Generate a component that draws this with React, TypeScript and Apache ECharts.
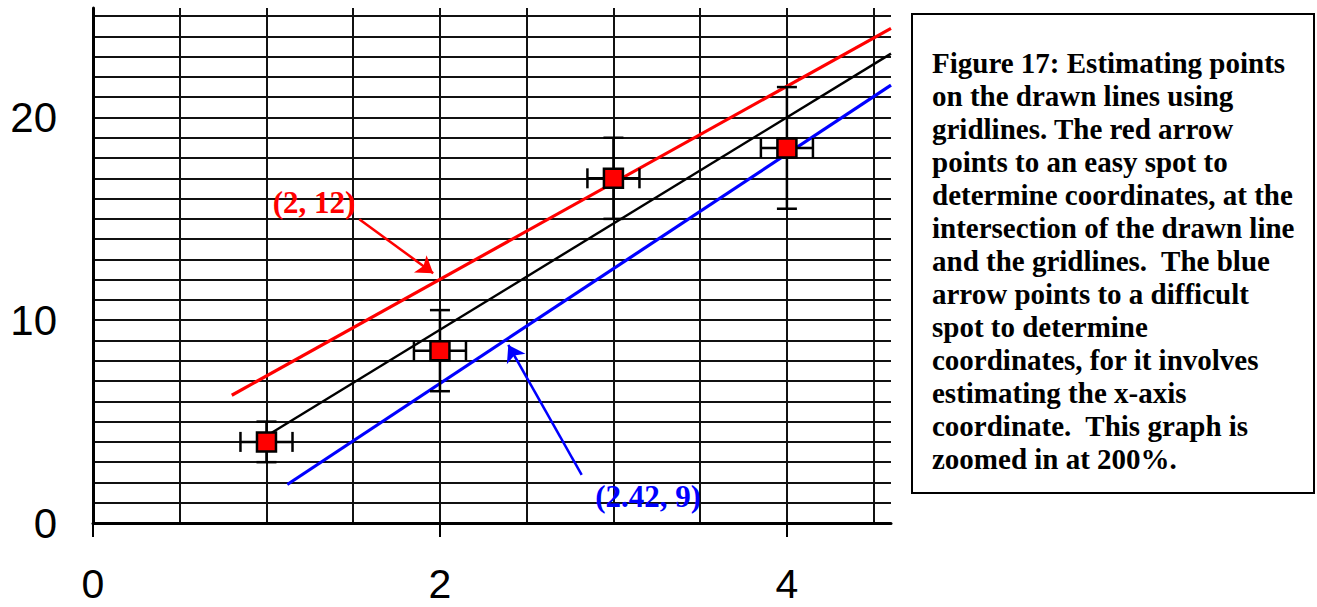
import React, { useEffect, useRef } from "react";
import * as echarts from "echarts";

// ---- data ----
const xValues = [1, 2, 3, 4];
const yValues = [4, 8.5, 17, 18.5];
const xErrors = [0.15, 0.15, 0.15, 0.15];
const yErrors = [1, 2, 2, 3];

const redLine = [[0.8, 6.3], [4.6, 24.4]];
const blackLine = [[1.03, 4.45], [4.6, 23.15]];
const blueLine = [[1.12, 1.9], [4.6, 21.6]];

const yTickLabels = [0, 10, 20];

const redArrow = [[1.535, 14.98], [1.961, 12.32]];
const blueArrow = [[2.817, 2.37], [2.394, 8.78]];

const annotationTexts = ["(2, 12)", "(2.42, 9)"];
const annotationPositions = [[1.274, 15.8], [3.2, 1.33]];
const annotationColors = ["#ff0000", "#0000ff"];

const captionLines = [
  "Figure 17: Estimating points",
  "on the drawn lines using",
  "gridlines. The red arrow",
  "points to an easy spot to",
  "determine coordinates, at the",
  "intersection of the drawn line",
  "and the gridlines.  The blue",
  "arrow points to a difficult",
  "spot to determine",
  "coordinates, for it involves",
  "estimating the x-axis",
  "coordinate.  This graph is",
  "zoomed in at 200%.",
];

const gridColor = "#111111";

function buildOption(): any {
  const errData = xValues.map((x, i) => [x, yValues[i], xErrors[i], yErrors[i]]);
  const pointData = xValues.map((x, i) => [x, yValues[i]]);
  return {
    animation: false,
    backgroundColor: "#ffffff",
    grid: [
      { left: 93, top: 8, width: 798, height: 515, containLabel: false },
      { left: 93, top: 8, width: 694, height: 515, containLabel: false },
    ],
    xAxis: [
      {
        type: "value",
        gridIndex: 0,
        min: 0,
        max: 4.6,
        interval: 0.5,
        axisLine: { show: true, onZero: false, lineStyle: { color: "#000", width: 3 } },
        axisTick: { show: false },
        axisLabel: { show: false },
        splitLine: { show: true, showMaxLine: false, lineStyle: { color: gridColor, width: 2 } },
      },
      {
        type: "value",
        gridIndex: 1,
        min: 0,
        max: 4,
        interval: 2,
        axisLine: { show: false },
        axisTick: { show: true, inside: false, length: 14, lineStyle: { color: "#000", width: 2 } },
        axisLabel: {
          show: true,
          margin: 43,
          fontSize: 41,
          lineHeight: 36,
          color: "#000",
          fontFamily: "Liberation Sans",
        },
        splitLine: { show: false },
      },
    ],
    yAxis: [
      {
        type: "value",
        gridIndex: 0,
        min: 0,
        max: 25.4,
        interval: 1,
        axisLine: { show: true, onZero: false, lineStyle: { color: "#000", width: 3 } },
        axisTick: { show: false },
        axisLabel: {
          show: true,
          margin: 36,
          fontSize: 42,
          color: "#000",
          fontFamily: "Liberation Sans",
          showMaxLabel: false,
          formatter: (v: number) => (yTickLabels.indexOf(v) >= 0 ? String(v) : ""),
        },
        splitLine: { show: true, showMaxLine: false, lineStyle: { color: gridColor, width: 2 } },
      },
      { type: "value", gridIndex: 1, min: 0, max: 1, show: false },
    ],
    series: [
      {
        type: "line",
        xAxisIndex: 0,
        yAxisIndex: 0,
        data: redLine,
        symbol: "none",
        silent: true,
        lineStyle: { color: "#ff0000", width: 3.2 },
        z: 2,
      },
      {
        type: "line",
        xAxisIndex: 0,
        yAxisIndex: 0,
        data: blackLine,
        symbol: "none",
        silent: true,
        lineStyle: { color: "#000000", width: 2.4 },
        z: 2,
      },
      {
        type: "line",
        xAxisIndex: 0,
        yAxisIndex: 0,
        data: blueLine,
        symbol: "none",
        silent: true,
        lineStyle: { color: "#0000ff", width: 3.2 },
        z: 2,
      },
      {
        type: "custom",
        xAxisIndex: 0,
        yAxisIndex: 0,
        data: errData,
        encode: { x: 0, y: 1 },
        silent: true,
        z: 3,
        renderItem: (params: any, api: any) => {
          const x = api.value(0);
          const y = api.value(1);
          const ex = api.value(2);
          const ey = api.value(3);
          const l = api.coord([x - ex, y]);
          const r = api.coord([x + ex, y]);
          const t = api.coord([x, y + ey]);
          const b = api.coord([x, y - ey]);
          const cap = 10;
          const st = { stroke: "#000", lineWidth: 2.5 };
          return {
            type: "group",
            children: [
              { type: "line", shape: { x1: l[0], y1: l[1], x2: r[0], y2: r[1] }, style: st },
              { type: "line", shape: { x1: t[0], y1: t[1], x2: b[0], y2: b[1] }, style: st },
              { type: "line", shape: { x1: l[0], y1: l[1] - cap, x2: l[0], y2: l[1] + cap }, style: st },
              { type: "line", shape: { x1: r[0], y1: r[1] - cap, x2: r[0], y2: r[1] + cap }, style: st },
              { type: "line", shape: { x1: t[0] - cap, y1: t[1], x2: t[0] + cap, y2: t[1] }, style: st },
              { type: "line", shape: { x1: b[0] - cap, y1: b[1], x2: b[0] + cap, y2: b[1] }, style: st },
            ],
          };
        },
      },
      {
        type: "scatter",
        xAxisIndex: 0,
        yAxisIndex: 0,
        data: pointData,
        symbol: "rect",
        symbolSize: 19,
        silent: true,
        itemStyle: { color: "#ff0000", borderColor: "#000", borderWidth: 2.5, opacity: 1 },
        z: 4,
      },
      {
        type: "lines",
        coordinateSystem: "cartesian2d",
        xAxisIndex: 0,
        yAxisIndex: 0,
        silent: true,
        symbol: ["none", "arrow"],
        symbolSize: 16,
        z: 5,
        data: [
          { coords: redArrow, lineStyle: { color: "#ff0000", width: 2.5, opacity: 1, curveness: 0 } },
          { coords: blueArrow, lineStyle: { color: "#0000ff", width: 2.5, opacity: 1, curveness: 0 } },
        ],
      },
      {
        type: "custom",
        xAxisIndex: 0,
        yAxisIndex: 0,
        silent: true,
        z: 6,
        data: annotationPositions.map((p, i) => [p[0], p[1], i]),
        encode: { x: 0, y: 1 },
        renderItem: (params: any, api: any) => {
          const idx = api.value(2);
          const c = api.coord([api.value(0), api.value(1)]);
          return {
            type: "text",
            x: c[0],
            y: c[1],
            style: {
              text: annotationTexts[idx],
              fill: annotationColors[idx],
              fontSize: 31,
              fontWeight: "bold",
              fontFamily: "Liberation Serif",
              align: "center",
              verticalAlign: "middle",
            },
          };
        },
      },
    ],
    graphic: [
      {
        type: "rect",
        shape: { x: 912, y: 14, width: 402, height: 479 },
        style: { fill: "#ffffff", stroke: "#000000", lineWidth: 2 },
        z: 10,
      },
      {
        type: "text",
        x: 932,
        y: 46,
        z: 11,
        style: {
          text: captionLines.join("\n"),
          fontSize: 29,
          fontWeight: "bold",
          fontFamily: "Liberation Serif",
          lineHeight: 33,
          fill: "#000000",
          verticalAlign: "top",
          align: "left",
        },
      },
    ],
  };
}

export default function App() {
  const ref = useRef<HTMLDivElement>(null);
  useEffect(() => {
    if (!ref.current) return;
    const chart = echarts.init(ref.current, null, { renderer: "svg" });
    chart.setOption(buildOption());
    return () => chart.dispose();
  }, []);
  return (
    <div
      ref={ref}
      style={{ position: "absolute", left: 0, top: 0, width: 1317, height: 607, background: "#fff" }}
    />
  );
}
